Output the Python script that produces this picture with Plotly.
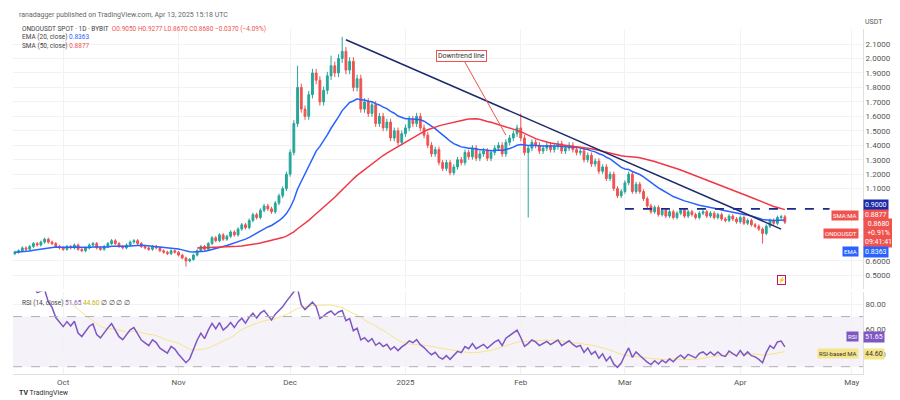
import plotly.graph_objects as go
import pandas as pd
import numpy as np

start_date = "2024-09-18"
closes = [
 0.66,0.67,0.69,0.68,0.70,0.72,0.71,0.73,0.75,0.73,0.72,0.70,0.69,
 0.68,0.70,0.69,0.71,0.68,0.67,0.69,0.71,0.72,0.69,0.68,0.70,0.72,0.74,0.72,0.70,0.69,0.71,0.73,0.74,0.72,0.70,0.69,0.68,0.70,0.69,0.67,0.66,0.65,0.67,0.66,
 0.64,0.62,0.60,0.61,0.64,0.67,0.70,0.68,0.72,0.76,0.74,0.78,0.75,0.77,0.80,0.78,0.82,0.85,0.83,0.88,0.92,0.90,0.95,0.98,0.96,0.94,1.00,1.05,1.10,1.20,
 1.35,1.55,1.80,1.65,1.60,1.75,1.90,1.85,1.70,1.78,1.88,1.95,1.90,2.00,2.05,1.92,1.98,1.80,1.86,1.65,1.70,1.62,1.68,1.55,1.60,1.52,1.56,1.45,1.50,1.42,1.48,
 1.52,1.58,1.55,1.60,1.52,1.47,1.40,1.34,1.37,1.28,1.24,1.28,1.21,1.25,1.30,1.28,1.35,1.32,1.38,1.31,1.34,1.36,1.31,1.35,1.38,1.40,1.34,1.42,1.45,1.48,1.52,
 1.45,1.35,1.38,1.42,1.40,1.36,1.38,1.40,1.37,1.39,1.41,1.36,1.38,1.40,1.37,1.35,1.36,1.30,1.33,1.27,1.29,1.22,1.25,1.17,1.20,1.10,1.05,1.08,
 1.14,1.20,1.08,1.13,1.08,1.03,0.98,0.94,0.97,0.92,0.95,0.91,0.94,0.90,0.93,0.95,0.91,0.94,0.92,0.90,0.93,0.94,0.91,0.93,0.90,0.92,0.89,0.88,0.91,0.89,0.87,
 0.90,0.86,0.88,0.85,0.84,0.82,0.79,0.84,0.88,0.86,0.90,0.905,0.868]
first_open = 0.65
extra_high = {"2024-12-15": 2.15, "2024-12-03": 1.95, "2025-02-01": 1.62, "2024-12-12": 2.02}
extra_low = {"2025-02-03": 0.90, "2025-04-07": 0.72, "2024-11-03": 0.56}

trend_pts = (["2024-12-16", "2025-04-12"], [2.13, 0.82])
level_pts = (["2025-03-01", "2025-04-25"], [0.96, 0.96])

dates = pd.date_range(start_date, periods=len(closes), freq="D")
c = np.array(closes)
o = np.concatenate([[first_open], c[:-1]])
hi = np.maximum(o, c) * 1.015
lo = np.minimum(o, c) * 0.985
for d, v in extra_high.items():
    hi[dates.get_loc(pd.Timestamp(d))] = v
for d, v in extra_low.items():
    lo[dates.get_loc(pd.Timestamp(d))] = v

s = pd.Series(c, index=dates)
ema = s.ewm(span=20, adjust=False).mean()
sma = s.rolling(50).mean()
delta = s.diff()
gain = delta.clip(lower=0).ewm(alpha=1/14, adjust=False).mean()
loss = (-delta.clip(upper=0)).ewm(alpha=1/14, adjust=False).mean()
rsi = 100 - 100 / (1 + gain / loss)
rsi_ma = rsi.rolling(14).mean()

fig = go.Figure()
fig.add_trace(go.Candlestick(x=dates, open=o, high=hi, low=lo, close=c,
    increasing=dict(line=dict(color="#26a69a", width=1), fillcolor="#26a69a"),
    decreasing=dict(line=dict(color="#ef5350", width=1), fillcolor="#ef5350"),
    whiskerwidth=0, yaxis="y", showlegend=False))
fig.add_trace(go.Scatter(x=dates, y=ema, line=dict(color="#2962ff", width=1.5), yaxis="y", showlegend=False))
fig.add_trace(go.Scatter(x=dates, y=sma, line=dict(color="#f23645", width=1.5), yaxis="y", showlegend=False))
fig.add_trace(go.Scatter(x=trend_pts[0], y=trend_pts[1], mode="lines", line=dict(color="#1a2a6c", width=1.5), yaxis="y", showlegend=False))
fig.add_trace(go.Scatter(x=level_pts[0], y=level_pts[1], mode="lines", line=dict(color="#1a2a8c", width=1.8, dash="dash"), yaxis="y", showlegend=False))
fig.add_trace(go.Scatter(x=dates, y=rsi_ma, line=dict(color="#f5e58a", width=1), yaxis="y2", showlegend=False))
fig.add_trace(go.Scatter(x=dates, y=rsi, line=dict(color="#7e57c2", width=1.5), yaxis="y2", showlegend=False))

x0, x1 = "2024-09-17 12:00", "2025-05-04"
fig.add_shape(type="rect", xref="x", yref="y2", x0=x0, x1=x1, y0=30, y1=70, fillcolor="rgba(126,87,194,0.08)", line_width=0, layer="below")
for lv in (30, 70):
    fig.add_shape(type="line", xref="x", yref="y2", x0=x0, x1=x1, y0=lv, y1=lv, line=dict(color="#b0b0b0", width=1, dash="dash"))

fig.update_layout(
    width=900, height=400, paper_bgcolor="white", plot_bgcolor="white",
    margin=dict(l=5, r=45, t=10, b=32),
    font=dict(family="Roboto, Arial", size=8, color="#555"),
    xaxis=dict(type="date", range=[x0, x1], rangeslider=dict(visible=False),
               tickvals=["2024-10-01","2024-11-01","2024-12-01","2025-01-01","2025-02-01","2025-03-01","2025-04-01","2025-05-01"],
               ticktext=["Oct","Nov","Dec","2025","Feb","Mar","Apr","May"],
               showgrid=True, gridcolor="#f2f2f2", anchor="y2", showline=True, linecolor="#e0e0e0"),
    yaxis=dict(domain=[0.244, 0.97], range=[0.408, 2.206], side="right",
               tickvals=[0.5,0.6,1.1,1.2,1.3,1.4,1.5,1.6,1.7,1.8,1.9,2.0,2.1],
               ticktext=["0.5000","0.6000","1.1000","1.2000","1.3000","1.4000","1.5000","1.6000","1.7000","1.8000","1.9000","2.0000","2.1000"],
               showgrid=True, gridcolor="#f2f2f2", showline=True, linecolor="#e0e0e0", zeroline=False),
    yaxis2=dict(domain=[0.005, 0.236], range=[24, 90], side="right", tickvals=[40,60,80],
                ticktext=["40.00","60.00","80.00"], showgrid=True, gridcolor="#f2f2f2", showline=True, linecolor="#e0e0e0"),
)

def lbl(y, text, bg, tag, yref="y", fc="white"):
    fig.add_annotation(xref="paper", yref=yref, x=1.0, y=y, xanchor="left", text=text, showarrow=False,
                       bgcolor=bg, font=dict(color=fc, size=7), borderpad=1)
    if tag:
        fig.add_annotation(xref="paper", yref=yref, x=0.995, y=y, xanchor="right", text=tag, showarrow=False,
                           bgcolor=bg, font=dict(color=fc, size=6), borderpad=1)

lbl(0.985, "0.9000", "#1a2aa8", "")
lbl(0.915, "0.8877", "#ef5350", "SMA:MA")
lbl(0.79, "0.8680<br>+0.91%<br>09:41:41", "#ef5350", "ONDOUSDT")
lbl(0.665, "0.8363", "#2962ff", "EMA")
lbl(54.0, "51.65", "#7e57c2", "RSI", yref="y2")
lbl(40.5, "44.60", "#f5e58a", "RSI-based MA", yref="y2", fc="#333")
fig.add_annotation(xref="paper", yref="paper", x=1.0, y=1.005, xanchor="left", yanchor="top", text="USDT", showarrow=False, font=dict(size=7))

fig.add_annotation(xref="paper", yref="paper", x=0.005, y=1.025, xanchor="left", yanchor="top", showarrow=False,
                   text="ranadagger published on TradingView.com, Apr 13, 2025 15:18 UTC", font=dict(size=7, color="#666"))
fig.add_annotation(xref="paper", yref="paper", x=0.008, y=0.985, xanchor="left", yanchor="top", showarrow=False, align="left",
                   text="ONDOUSDT SPOT · 1D · BYBIT  <span style='color:#ef5350'>O0.9050 H0.9277 L0.8670 C0.8680 −0.0370 (−4.09%)</span><br>"
                        "EMA (20, close) <span style='color:#2962ff'>0.8363</span><br>SMA (50, close) <span style='color:#ef5350'>0.8877</span>",
                   font=dict(size=6.5, color="#444"))
fig.add_annotation(xref="paper", yref="paper", x=0.008, y=0.222, xanchor="left", yanchor="top", showarrow=False,
                   text="RSI (14, close) <span style='color:#7e57c2'>51.65</span> <span style='color:#c9b400'>44.60</span> ∅ ∅ ∅ ∅",
                   font=dict(size=6.5, color="#444"))
fig.add_annotation(xref="x", yref="y", x="2025-01-28", y=1.47, ax="2025-01-16", ay=2.02, axref="x", ayref="y",
                   text="Downtrend line", showarrow=True, arrowhead=0, arrowwidth=1, arrowcolor="#ef5350",
                   bgcolor="white", bordercolor="#ef5350", borderwidth=1, font=dict(size=7, color="#333"))
fig.add_annotation(xref="x", yref="y", x="2025-04-12", y=0.47, text="⚡", showarrow=False,
                   bordercolor="#c2185b", borderwidth=1, borderpad=0, font=dict(size=6, color="#c2185b"))
fig.add_annotation(xref="paper", yref="paper", x=0.005, y=-0.03, xanchor="left", yanchor="top", showarrow=False,
                   text="<b>TV</b> TradingView", font=dict(size=7, color="#333"))

fig.write_html("out.html")
